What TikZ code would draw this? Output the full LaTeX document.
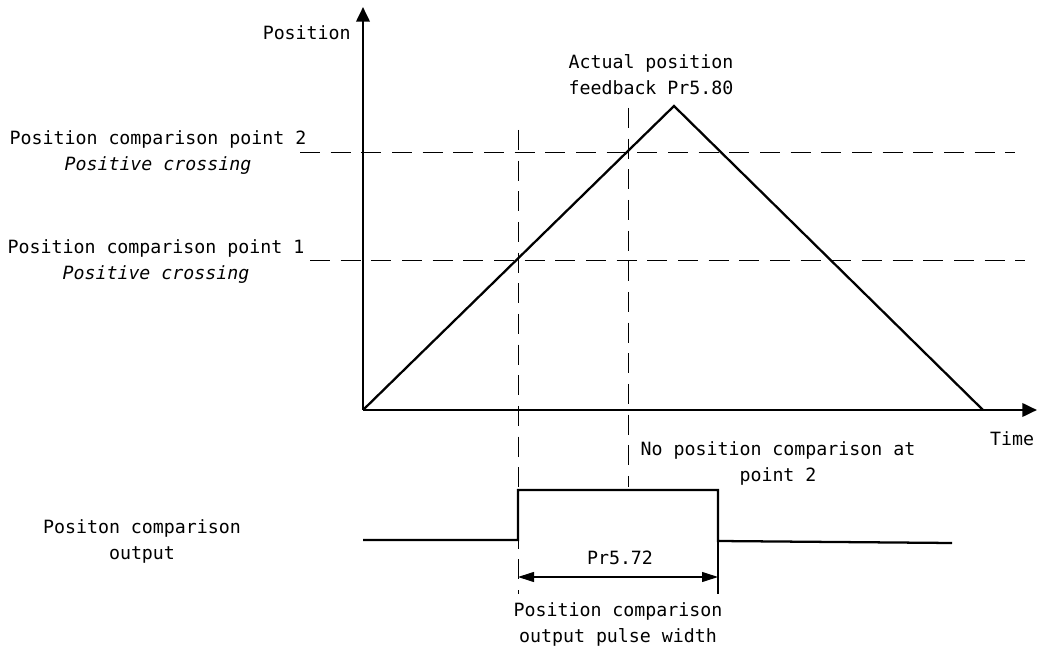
\documentclass[tikz,border=0pt]{standalone}
\usepackage{fontspec}
\setmonofont{DejaVu Sans Mono}
\usetikzlibrary{arrows.meta}
\begin{document}
\begin{tikzpicture}[x=0.75pt,y=-0.75pt,
  lbl/.style={font=\ttfamily\fontsize{13.7}{19.5}\selectfont, inner sep=0pt, align=center},
  axisline/.style={line width=2pt,-{Triangle[length=11pt,width=10pt]}},
  curve/.style={line width=1.7pt},
  guide/.style={line width=0.75pt, dash pattern=on 15pt off 8pt},
  dim/.style={line width=0.8pt,{Triangle[length=12pt,width=7.5pt]}-{Triangle[length=12pt,width=7.5pt]}}
]
\useasboundingbox (0,0) rectangle (1040,652);
% coordinates
\coordinate (O) at (363,410);
\coordinate (ytip) at (363,7);
\coordinate (xtip) at (1037,410);
\coordinate (peak) at (674,106);
\coordinate (tend) at (983,410);
\coordinate (h2a) at (300,153);
\coordinate (h2b) at (1015,153);
\coordinate (h1a) at (310,261);
\coordinate (h1b) at (1025,261);
\coordinate (v1a) at (518,130);
\coordinate (v1b) at (518,594);
\coordinate (v2a) at (628,108);
\coordinate (v2b) at (628,487);
\coordinate (p0) at (363,540);
\coordinate (p1) at (518,540);
\coordinate (p2) at (518,490);
\coordinate (p3) at (718,490);
\coordinate (p4) at (718,541);
\coordinate (p5) at (952,543);
\coordinate (tk) at (718,594);
\coordinate (d1) at (518,577);
\coordinate (d2) at (718,577);
% guides
\draw[guide] (h2a) -- (h2b);
\draw[guide] (h1a) -- (h1b);
\draw[guide] (v1a) -- (v1b);
\draw[guide] (v2a) -- (v2b);
% axes
\draw[axisline] (O) -- (ytip);
\draw[axisline] (O) -- (xtip);
% triangle
\draw[curve, line join=miter] (O) -- (peak) -- (tend);
% pulse
\draw[curve] (p0) -- (p1) -- (p2) -- (p3) -- (p4) -- (p5);
\draw[line width=0.9pt] (p4) -- (tk);
\draw[dim] (d1) -- (d2);
% labels
\node[lbl, anchor=east] (ylab) at (351,33) {Position};
\node[lbl] (time) at (1012,439) {Time};
\node[lbl] (feedback) at (651,75) {Actual position\\feedback Pr5.80};
\node[lbl] (cmp2) at (158,152.5) {Position comparison point 2\\\itshape Positive crossing};
\node[lbl] (cmp1) at (156,262) {Position comparison point 1\\\itshape Positive crossing};
\node[lbl] (outlbl) at (142,541.5) {Positon comparison\\output};
\node[lbl] (nocmp) at (778,463.5) {No position comparison at\\point 2};
\node[lbl] (pr572) at (620,558) {Pr5.72};
\node[lbl] (pw) at (618,624.5) {Position comparison\\output pulse width};
\end{tikzpicture}
\end{document}
